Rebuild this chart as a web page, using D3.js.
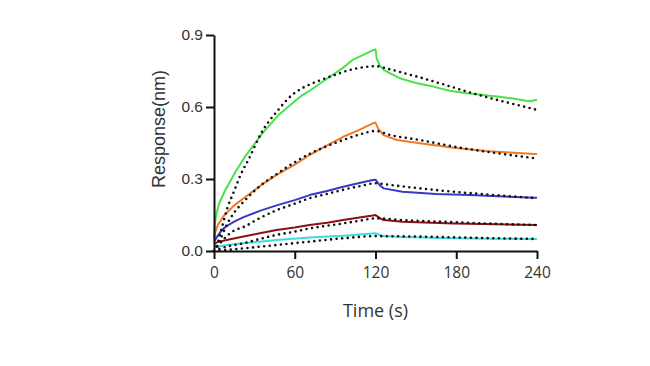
<!DOCTYPE html>
<html>
<head>
<meta charset="utf-8">
<script src="https://cdn.jsdelivr.net/npm/d3@7"></script>
<style>
  body { margin: 0; background: #fff; }
  .axis path, .axis line { stroke: #111; stroke-width: 2px; }
  .axis text { fill: #333; }
</style>
</head>
<body>
<div id="chart"></div>
<script>
// time (s), response (nm) pairs
const greenData = [[0,0.05],[0.5,0.10],[1,0.13],[2,0.16],[4,0.20],[6,0.225],[8.4,0.254],[12,0.29],[16,0.33],[23,0.393],[30,0.445],[36,0.49],[48,0.567],[56,0.605],[64,0.643],[73,0.675],[86,0.726],[95,0.76],[103,0.796],[112,0.82],[119.5,0.84],[120,0.84],[121,0.80],[123,0.775],[126,0.755],[131,0.74],[138,0.72],[150,0.70],[163,0.685],[175,0.668],[188,0.657],[200,0.65],[212,0.643],[222,0.635],[232,0.626],[236,0.625],[240,0.63]];
const orangeData = [[0,0.05],[1,0.08],[3,0.11],[7,0.145],[14,0.185],[22,0.22],[34,0.27],[46.5,0.317],[60,0.36],[71,0.40],[84,0.44],[96,0.476],[108,0.505],[118,0.532],[120,0.535],[122,0.51],[126,0.483],[136,0.4625],[153,0.449],[178,0.43],[202,0.417],[220,0.41],[238,0.404],[240,0.404]];
const blueData = [[0,0.04],[3,0.065],[6,0.088],[9.4,0.104],[15,0.122],[22,0.141],[34,0.167],[46.5,0.19],[60,0.212],[71,0.233],[84,0.25],[96,0.268],[108,0.283],[118,0.296],[120,0.297],[123,0.275],[126,0.261],[140,0.247],[165,0.2375],[190,0.233],[215,0.227],[238,0.222],[240,0.222]];
const redData = [[0,0.03],[3,0.038],[9.4,0.046],[22,0.06],[34,0.074],[46.5,0.0875],[60,0.098],[71,0.108],[84,0.118],[96,0.129],[108,0.14],[118,0.148],[120,0.15],[123,0.138],[126,0.129],[140,0.122],[178,0.115],[210,0.111],[240,0.108]];
const cyanData = [[0,0.015],[9.4,0.025],[22,0.032],[46.5,0.046],[71,0.056],[96,0.064],[118,0.073],[120,0.074],[125,0.062],[140,0.058],[178,0.053],[210,0.051],[240,0.05]];

// dotted fitted curves
const greenFit = [[0,0],[2,0.02],[5,0.08],[10,0.18],[15,0.25],[20,0.32],[26,0.385],[35,0.49],[48,0.59],[58,0.65],[66,0.68],[76,0.705],[86,0.726],[103,0.757],[120,0.77],[130,0.758],[140,0.743],[150,0.728],[160,0.712],[170,0.695],[180,0.678],[190,0.661],[200,0.645],[210,0.630],[220,0.616],[230,0.602],[240,0.588]];
const orangeFit = [[0,0],[4,0.04],[9.4,0.108],[15,0.16],[22,0.205],[34,0.27],[46.5,0.32],[60,0.37],[71,0.405],[84,0.437],[96,0.4625],[108,0.485],[120,0.50],[131,0.483],[153,0.4625],[178,0.435],[202,0.414],[220,0.40],[240,0.385]];
const blueFit = [[0,0],[5,0.035],[9.4,0.062],[15,0.085],[22,0.10],[34,0.137],[46.5,0.17],[60,0.197],[71,0.22],[84,0.238],[96,0.255],[108,0.27],[120,0.282],[131,0.275],[153,0.261],[178,0.247],[202,0.236],[220,0.228],[240,0.22]];
const redFit = [[0,0],[9.4,0.018],[22,0.032],[34,0.05],[46.5,0.067],[60,0.081],[71,0.094],[84,0.105],[96,0.115],[108,0.126],[120,0.136],[140,0.129],[178,0.12],[210,0.113],[240,0.108]];
const cyanFit = [[0,0],[9.4,0.004],[22,0.011],[46.5,0.025],[71,0.039],[96,0.053],[120,0.062],[140,0.061],[178,0.057],[210,0.053],[240,0.05]];

const xTicks = [0, 60, 120, 180, 240];
const yTicks = [0, 0.3, 0.6, 0.9];

const series = [
  { data: cyanData, fit: cyanFit, color: "#3fdada" },
  { data: redData, fit: redFit, color: "#8c0f1b" },
  { data: blueData, fit: blueFit, color: "#3838c4" },
  { data: orangeData, fit: orangeFit, color: "#f07a28" },
  { data: greenData, fit: greenFit, color: "#4ae24a" }
];

let w = 650;
let h = 366;

let x = d3.scaleLinear().domain([0, 240]).range([214, 537]);
let y = d3.scaleLinear().domain([0, 0.9]).range([251, 35]);

let svg = d3
  .select("#chart")
  .append("svg")
  .attr("width", w)
  .attr("height", h);

let line = d3
  .line()
  .x(function (d) {
    return x(d[0]);
  })
  .y(function (d) {
    return y(d[1]);
  });

let fitLine = d3
  .line()
  .x(function (d) {
    return x(d[0]);
  })
  .y(function (d) {
    return y(d[1]);
  })
  .curve(d3.curveMonotoneX);

svg
  .append("g")
  .selectAll("path")
  .data(series)
  .enter()
  .append("path")
  .attr("fill", "none")
  .attr("stroke", function (d) {
    return d.color;
  })
  .attr("stroke-width", 2)
  .attr("stroke-linejoin", "round")
  .attr("d", function (d) {
    return line(d.data);
  });

svg
  .append("g")
  .selectAll("path")
  .data(series)
  .enter()
  .append("path")
  .attr("fill", "none")
  .attr("stroke", "#111")
  .attr("stroke-width", 2.6)
  .attr("stroke-linecap", "round")
  .attr("stroke-dasharray", "0 5.6")
  .attr("d", function (d) {
    return fitLine(d.fit);
  });

svg
  .append("g")
  .attr("class", "axis")
  .attr("transform", "translate(0,251)")
  .call(d3.axisBottom(x).tickValues(xTicks).tickSize(8).tickSizeOuter(0).tickPadding(8))
  .selectAll("text")
  .attr("font-family", "'Open Sans', Lato, sans-serif")
  .attr("font-size", 15.5);

svg
  .append("g")
  .attr("class", "axis")
  .attr("transform", "translate(214,0)")
  .call(
    d3
      .axisLeft(y)
      .tickValues(yTicks)
      .tickFormat(d3.format(".1f"))
      .tickSize(8)
      .tickSizeOuter(0)
      .tickPadding(3)
  )
  .selectAll("text")
  .attr("font-family", "'Liberation Sans', Arial, sans-serif")
  .attr("font-size", 15.5);

svg
  .append("text")
  .attr("x", 375.5)
  .attr("y", 317)
  .attr("text-anchor", "middle")
  .attr("fill", "#333")
  .attr("font-family", "'Open Sans', Lato, sans-serif")
  .attr("font-size", 18)
  .text("Time (s)");

svg
  .append("text")
  .attr("transform", "translate(165,129) rotate(-90)")
  .attr("text-anchor", "middle")
  .attr("fill", "#333")
  .attr("font-family", "'Liberation Sans', Arial, sans-serif")
  .attr("font-size", 18)
  .text("Response(nm)");
</script>
</body>
</html>
